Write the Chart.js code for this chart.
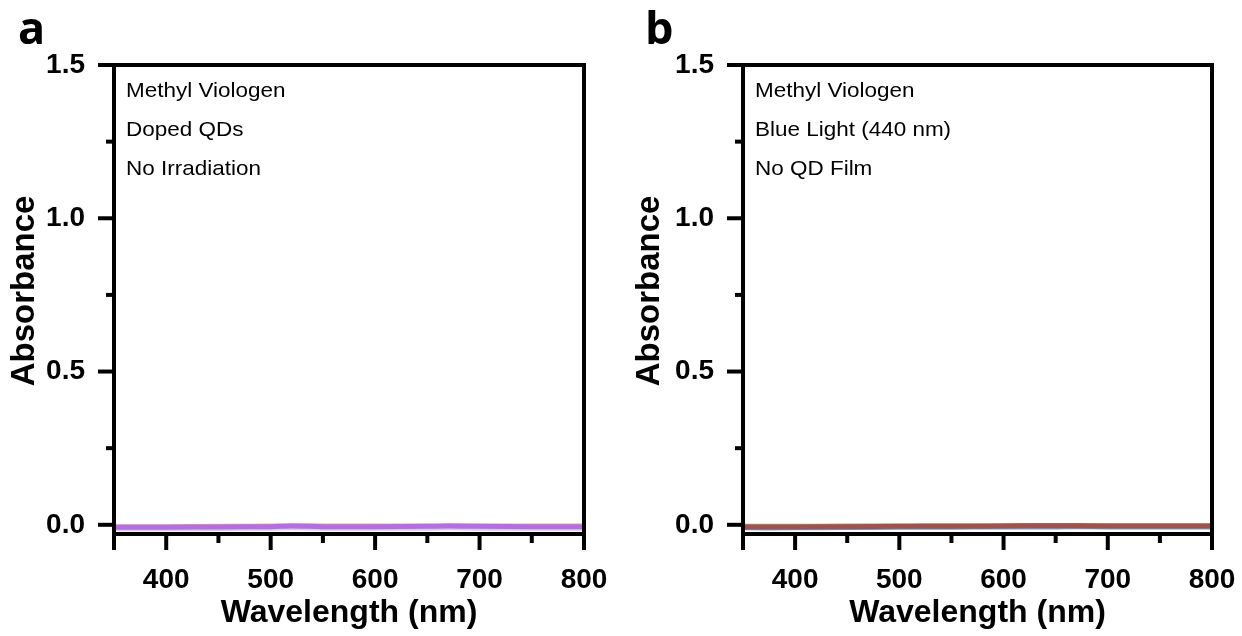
<!DOCTYPE html>
<html>
<head>
<meta charset="utf-8">
<script src="https://cdn.jsdelivr.net/npm/chart.js@4.4.1/dist/chart.umd.min.js"></script>
<style>
  html, body { margin: 0; padding: 0; background: #ffffff; }
  #wrap { position: relative; width: 1242px; height: 636px; overflow: hidden; }
  .pane { position: absolute; top: 0; width: 621px; height: 636px; }
  #pa { left: 0; }
  #pb { left: 621px; }
</style>
</head>
<body>
<div id="wrap">
  <div class="pane" id="pa"><canvas id="ca" width="621" height="636"></canvas></div>
  <div class="pane" id="pb"><canvas id="cb" width="621" height="636"></canvas></div>
</div>
<script>
// ---- data ----
const wavelengths = [350, 400, 450, 500, 520, 550, 600, 650, 670, 700, 750, 800];

// panel a (Methyl Viologen, Doped QDs, No Irradiation)
const aPurple   = [-0.008, -0.008, -0.007, -0.006, -0.004, -0.006, -0.006, -0.005, -0.004, -0.005, -0.006, -0.006];
const aLavender = [-0.013, -0.013, -0.012, -0.011, -0.010, -0.011, -0.011, -0.011, -0.010, -0.011, -0.011, -0.011];
const aOrange   = [-0.006, -0.006, -0.005, -0.004, -0.003, -0.004, -0.004, -0.004, -0.003, -0.004, -0.004, -0.004];

// panel b (Methyl Viologen, Blue Light (440 nm), No QD Film)
const bBrown = [-0.007, -0.007, -0.006, -0.005, -0.005, -0.005, -0.004, -0.003, -0.003, -0.004, -0.004, -0.004];
const bGreen = [-0.005, -0.005, -0.004, -0.004, -0.003, -0.003, -0.003, -0.002, -0.002, -0.003, -0.003, -0.003];
const bBlue  = [-0.010, -0.010, -0.009, -0.008, -0.008, -0.008, -0.007, -0.007, -0.006, -0.007, -0.007, -0.007];

// ticks
const xTicks = [350, 400, 450, 500, 550, 600, 650, 700, 750, 800];
const xTickLabels = ['', '400', '', '500', '', '600', '', '700', '', '800'];
const xMajor = [350, 400, 500, 600, 700, 800];
const yTicks = [0, 0.25, 0.5, 0.75, 1.0, 1.25, 1.5];
const yTickLabels = ['0.0', '', '0.5', '', '1.0', '', '1.5'];
const yMajor = [0, 0.5, 1.0, 1.5];

const xMin = 350, xMax = 800, yMin = -0.03, yMax = 1.5;

const xTitle = 'Wavelength (nm)';
const yTitle = 'Absorbance';
const notesA = ['Methyl Viologen', 'Doped QDs', 'No Irradiation'];
const notesB = ['Methyl Viologen', 'Blue Light (440 nm)', 'No QD Film'];

// ---- helpers ----
const pts = (ys) => wavelengths.map((x, i) => ({ x: x, y: ys[i] }));
const FONT = '"Liberation Sans", Arial, sans-serif';

const frame = {
  id: 'frame',
  afterDraw(chart, args, opts) {
    const { ctx, chartArea: a, scales } = chart;
    const xs = scales.x, ys = scales.y;
    ctx.save();
    ctx.strokeStyle = '#000';
    ctx.lineWidth = 4;
    ctx.lineCap = 'butt';
    ctx.strokeRect(a.left, a.top, a.right - a.left, a.bottom - a.top);
    // x ticks
    xTicks.forEach(v => {
      const px = xs.getPixelForValue(v);
      const len = xMajor.includes(v) ? 16 : 9;
      ctx.beginPath();
      ctx.moveTo(px, a.bottom);
      ctx.lineTo(px, a.bottom + len);
      ctx.stroke();
    });
    // y ticks
    yTicks.forEach(v => {
      const py = ys.getPixelForValue(v);
      const len = yMajor.includes(v) ? 16 : 8;
      ctx.beginPath();
      ctx.moveTo(a.left, py);
      ctx.lineTo(a.left - len, py);
      ctx.stroke();
    });
    // y title
    ctx.fillStyle = '#000';
    ctx.save();
    ctx.translate(opts.yTitleX, 291);
    ctx.rotate(-Math.PI / 2);
    ctx.font = 'bold 33px ' + FONT;
    ctx.textAlign = 'center';
    ctx.textBaseline = 'middle';
    ctx.fillText(yTitle, 0, 0);
    ctx.restore();
    // notes
    ctx.font = '21px ' + FONT;
    ctx.textAlign = 'left';
    ctx.textBaseline = 'alphabetic';
    opts.notes.forEach((t, i) => {
      ctx.save();
      ctx.translate(a.left + 12, 97 + i * 39);
      ctx.scale(1.07, 1);
      ctx.fillText(t, 0, 0);
      ctx.restore();
    });
    // panel letter
    ctx.font = 'bold 45px "Open Sans", "DejaVu Sans", sans-serif';
    ctx.fillText(opts.letter, opts.letterX, 44);
    ctx.restore();
  }
};

function makeChart(id, datasets, leftW, rightPad, notes, letter, letterX, yTitleX) {
  return new Chart(document.getElementById(id), {
    type: 'scatter',
    data: { datasets: datasets.map(d => ({
      data: pts(d.values),
      showLine: true,
      borderColor: d.color,
      backgroundColor: d.color,
      borderWidth: 5,
      pointRadius: 0,
      tension: 0.3
    })) },
    options: {
      responsive: false,
      animation: false,
      devicePixelRatio: 1,
      layout: { padding: { top: 65, right: rightPad, bottom: 0, left: 0 } },
      plugins: {
        legend: { display: false },
        tooltip: { enabled: false },
        frame: { notes: notes, letter: letter, letterX: letterX, yTitleX: yTitleX }
      },
      scales: {
        x: {
          type: 'linear',
          min: xMin, max: xMax,
          grid: { display: false, drawTicks: false, tickLength: 0 },
          border: { display: false },
          afterBuildTicks: (s) => { s.ticks = xTicks.map(v => ({ value: v })); },
          afterFit: (s) => { s.height = 636 - 534; s.paddingLeft = 0; s.paddingRight = 0; },
          ticks: {
            autoSkip: false,
            maxRotation: 0,
            padding: 29,
            color: '#000',
            font: { family: FONT, size: 28, weight: 'bold' },
            callback: (v, i) => xTickLabels[i]
          },
          title: {
            display: true,
            text: xTitle,
            color: '#000',
            padding: { top: 0, bottom: 4 },
            font: { family: FONT, size: 32, weight: 'bold' }
          }
        },
        y: {
          type: 'linear',
          min: yMin, max: yMax,
          grid: { display: false, drawTicks: false, tickLength: 0 },
          border: { display: false },
          afterBuildTicks: (s) => { s.ticks = yTicks.map(v => ({ value: v })); },
          afterFit: (s) => { s.width = leftW; s.paddingTop = 0; s.paddingBottom = 0; },
          ticks: {
            autoSkip: false,
            padding: 29,
            color: '#000',
            font: { family: FONT, size: 28, weight: 'bold' },
            callback: (v, i) => yTickLabels[i]
          },
          title: { display: false }
        }
      }
    },
    plugins: [frame]
  });
}

makeChart('ca', [
  { values: aPurple, color: '#b36ee2' },
  { values: aLavender, color: '#dcc6f2' },
  { values: aOrange, color: '#e8b070' }
], 114, 37, notesA, 'a', 18, 25);

makeChart('cb', [
  { values: bBrown, color: '#a0524f' },
  { values: bGreen, color: '#8fb070' },
  { values: bBlue, color: '#7d9ad0' }
], 122, 30, notesB, 'b', 24, 29);
</script>
</body>
</html>
